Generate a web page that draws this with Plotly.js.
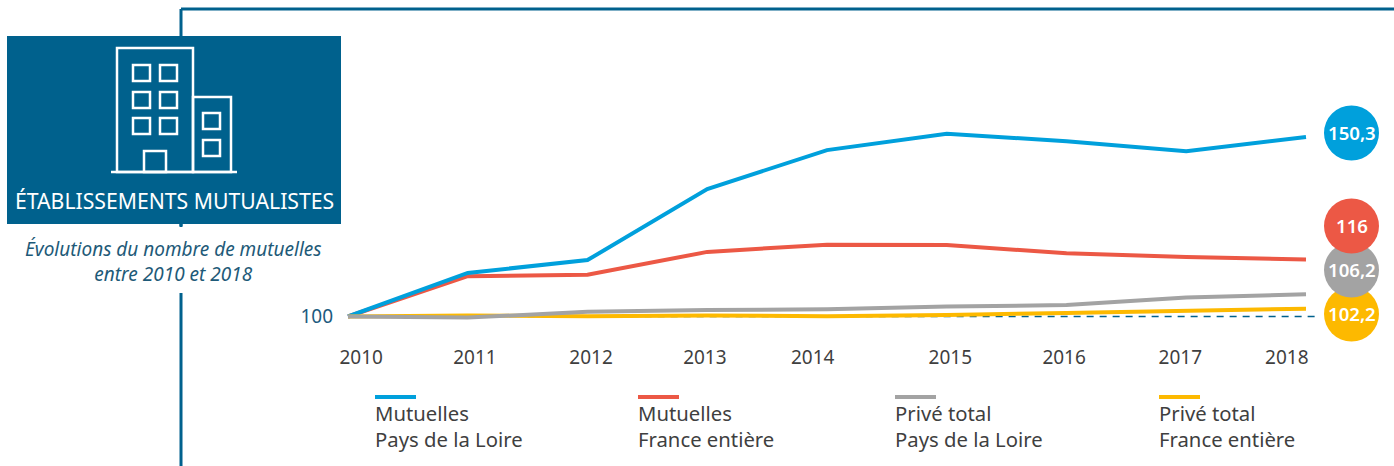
<!DOCTYPE html>
<html><head><meta charset="utf-8">
<script src="https://cdn.plot.ly/plotly-3.0.1.min.js"></script>
<style>html,body{margin:0;padding:0;background:#fff;overflow:hidden}</style>
</head><body><div id="chart" style="width:1394px;height:466px"></div>
<script>
const years = [2010,2011,2012,2013,2014,2015,2016,2017,2018];
const mutuellesPdl = [100,112.2,115.8,135.7,146.6,151.2,149.1,146.3,150.3];
const mutuellesFr = [100,111.3,111.7,118.1,120.1,120,117.7,116.7,116];
const priveTotalPdl = [100,99.7,101.3,101.8,102,102.8,103.2,105.3,106.2];
const priveTotalFr = [100,100.3,100.1,100.3,100.1,100.4,101,101.5,102.2];
const tickLabels = ['2010','2011','2012','2013','2014','2015','2016','2017','2018'];
const tickLabelShift = [0.11,0.06,0.03,-0.02,-0.12,0.03,-0.02,-0.05,-0.16];
const legendNames = ['Mutuelles<br>Pays de la Loire','Mutuelles<br>France entière','Privé total<br>Pays de la Loire','Privé total<br>France entière'];
const legendX = [373,636,893,1157];
const seriesColors = ['#00a0dc','#ec5845','#a3a3a3','#fdb900'];
const endLabels = ['150,3','116','106,2','102,2'];
const badgeY = [133,226,270,314];
const panelTitle = 'ÉTABLISSEMENTS MUTUALISTES';
const subtitle = '<i>Évolutions du nombre de mutuelles<br>entre 2010 et 2018</i>';

const W=1394,H=466, ML=340,MT=100,MB=131,MR=0;
const px=x=>(x-ML)/(W-ML-MR), py=y=>1-(y-MT)/(H-MT-MB);
const NAVY='#00618d', FONT='"Noto Sans", sans-serif', DARK='#3f3f3f';
const xPerPx=1/119.75, yPerPx=1/3.57;
const xRange=[2010-(348-ML)*xPerPx, 2010+(W-348)*xPerPx];
const yRange=[100-(H-MB-316.5)*yPerPx, 100+(316.5-MT)*yPerPx];

function rect(x0,y0,x1,y1,o={}){return Object.assign({type:'rect',xref:'paper',yref:'paper',x0:px(x0),x1:px(x1),y0:py(y0),y1:py(y1),layer:'above',line:{color:'#fff',width:2.5}},o);}
function line(x0,y0,x1,y1,color,width,layer='above'){return {type:'line',xref:'paper',yref:'paper',x0:px(x0),x1:px(x1),y0:py(y0),y1:py(y1),layer,line:{color,width}};}
function text(x,y,t,o={}){return Object.assign({xref:'paper',yref:'paper',x:px(x),y:py(y),text:t,showarrow:false,xanchor:'center',yanchor:'middle',font:{family:FONT,size:18,color:DARK}},o);}

const shapes=[
  line(181,9,1394,9,NAVY,3),
  line(181,9,181,466,NAVY,3),
  rect(0,226,340,293,{line:{width:0},fillcolor:'#fff'}),
  line(181,224,181,227,NAVY,3),
  rect(7,36,341,224,{line:{width:0},fillcolor:NAVY}),
  rect(117,48,193,172),
  rect(193,97,231,172),
  line(111,172,237,172,'#fff',2.5),
  rect(144,151,166,172)
];
[[133,65],[160,65],[133,92],[160,92],[133,118],[160,118],[203,113],[203,140]].forEach(w=>shapes.push(rect(w[0],w[1],w[0]+17,w[1]+16)));
shapes.push({type:'line',xref:'x',yref:'y',x0:2011.5,x1:2018.08,y0:100,y1:100,layer:'below',line:{color:NAVY,width:1.3,dash:'7px,6px'}});
legendX.forEach((x,i)=>shapes.push(line(x+2,397,x+43,397,seriesColors[i],4)));
// badges: yellow, grey, red, blue stacking
[3,2,1,0].forEach(i=>{const r=27.5,cx=1351.5,cy=badgeY[i];
  shapes.push({type:'circle',xref:'paper',yref:'paper',x0:px(cx-r),x1:px(cx+r),y0:py(cy-r),y1:py(cy+r),layer:'above',line:{width:0},fillcolor:seriesColors[i]});});

const annotations=[
  text(174,200,panelTitle,{font:{family:FONT,size:21.2,color:'#fff'}}),
  text(173,261,subtitle,{font:{family:FONT,size:19,color:'#1e5a78'},align:'center'}),
];
legendX.forEach((x,i)=>annotations.push(text(x,426,legendNames[i],{xanchor:'left',align:'left',font:{family:FONT,size:20.3,color:DARK}})));
endLabels.forEach((t,i)=>annotations.push(text(1351.5,badgeY[i]-1,t,{font:{family:FONT,size:18.6,color:'#fff',weight:600}})));

const mk=(name,y,i)=>({type:'scatter',mode:'lines',name,x:years,y,line:{color:seriesColors[i],width:4,shape:'linear'},hoverinfo:'x+y'});
const traces=[mk('Mutuelles France entière',mutuellesFr,1),mk('Mutuelles Pays de la Loire',mutuellesPdl,0),mk('Privé total France entière',priveTotalFr,3),mk('Privé total Pays de la Loire',priveTotalPdl,2)];

Plotly.newPlot('chart',traces,{
  width:W,height:H,margin:{l:ML,r:MR,t:MT,b:MB,pad:0},
  paper_bgcolor:'#fff',plot_bgcolor:'#fff',showlegend:false,
  xaxis:{range:xRange,tickmode:'array',tickvals:years.map((y,i)=>y+tickLabelShift[i]),ticktext:tickLabels,showgrid:false,zeroline:false,showline:false,ticks:'',tickfont:{family:FONT,size:19,color:DARK},ticklabelstandoff:9},
  yaxis:{range:yRange,tickmode:'array',tickvals:[100],ticktext:['100'],showgrid:false,zeroline:false,showline:false,ticks:'',tickfont:{family:FONT,size:19,color:'#1d5a7e'},ticklabelstandoff:6},
  shapes,annotations
},{displayModeBar:false,staticPlot:true});
</script></body></html>
